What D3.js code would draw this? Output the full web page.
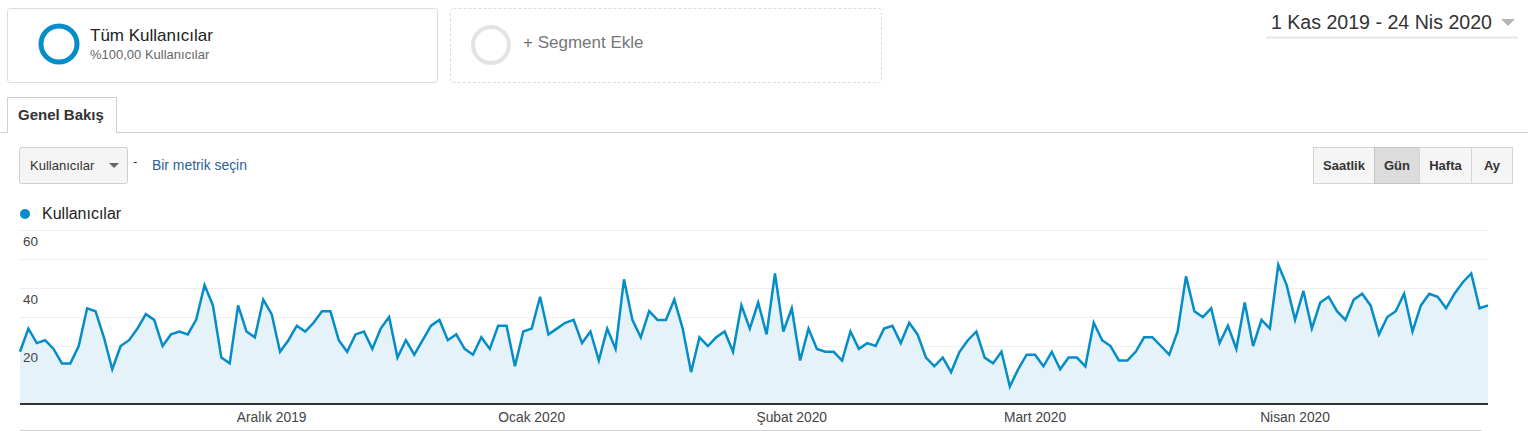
<!DOCTYPE html>
<html>
<head>
<meta charset="utf-8">
<script src="https://cdn.jsdelivr.net/npm/d3@7"></script>
<style>
  body { margin: 0; background: #fff; }
  svg { display: block; font-family: "Liberation Sans", Arial, sans-serif; }
</style>
</head>
<body>
<div id="chart"></div>
<script>
// daily users, 1 Kas 2019 - 24 Nis 2020
const users = [
  18,26,21,22,19,14,14,20,33,32,23,12,20,22,26,31,29,20,24,25,24,29,41,34,16,14,
  34,25,23,36,31,18,22,27,25,28,32,32,22,18,24,25,19,26,30,16,22,17,22,27,29,
  22,24,19,17,23,19,27,27,13,25,26,37,24,26,28,29,21,25,15,26,19,43,29,23,32,
  29,29,36,26,11,23,20,23,25,18,34,26,35,24,45,25,33,15,26,19,18,18,15,25,19,
  21,20,26,27,21,28,24,16,13,16,11,18,22,25,16,14,18,6,12,17,17,13,18,12,16,
  16,13,28,22,20,15,15,18,23,23,20,17,25,44,32,30,33,21,27,19,35,20,29,26,48,
  41,29,39,26,35,37,32,29,36,38,34,24,30,32,38,25,34,38,37,33,38,42,45,33,34
];
const startDate = new Date(2019, 10, 1);
const monthNames = ["Ocak","Şubat","Mart","Nisan","Mayıs","Haziran","Temmuz","Ağustos","Eylül","Ekim","Kasım","Aralık"];
const yTickLabels = [20, 40, 60];
const yGrid = [10, 20, 30, 40, 50, 60];
const granularity = ["Saatlik", "Gün", "Hafta", "Ay"];
const activeGranularity = "Gün";

const data = users.map((v, i) => ({ date: d3.timeDay.offset(startDate, i), value: v }));

const width = 1528, height = 431;
const blue = "#058dc7";

const svg = d3.select("#chart").append("svg")
    .attr("width", width)
    .attr("height", height)
    .attr("viewBox", [0, 0, width, height]);

/* segment cards */
svg.append("rect").attr("x", 7.5).attr("y", 8.5).attr("width", 430).attr("height", 74)
    .attr("rx", 3).attr("fill", "#fff").attr("stroke", "#dcdcdc");
svg.append("circle").attr("cx", 59).attr("cy", 44).attr("r", 18)
    .attr("fill", "none").attr("stroke", blue).attr("stroke-width", 5);
svg.append("text").attr("x", 90).attr("y", 41).attr("font-size", 17).attr("fill", "#222")
    .text("Tüm Kullanıcılar");
svg.append("text").attr("x", 90).attr("y", 59).attr("font-size", 13).attr("fill", "#666")
    .text("%100,00 Kullanıcılar");

svg.append("rect").attr("x", 450.5).attr("y", 8.5).attr("width", 431).attr("height", 74)
    .attr("rx", 3).attr("fill", "#fff").attr("stroke", "#dcdcdc").attr("stroke-dasharray", "3,2");
svg.append("circle").attr("cx", 491).attr("cy", 45).attr("r", 18)
    .attr("fill", "none").attr("stroke", "#e3e3e3").attr("stroke-width", 4);
svg.append("text").attr("x", 523).attr("y", 48).attr("font-size", 17).attr("fill", "#777")
    .text("+ Segment Ekle");

/* date range */
svg.append("text").attr("x", 1492).attr("y", 29).attr("font-size", 19.6).attr("fill", "#333")
    .attr("text-anchor", "end").text("1 Kas 2019 - 24 Nis 2020");
svg.append("path").attr("d", "M1501,19 L1515,19 L1508,26 Z").attr("fill", "#b5b5b5");
svg.append("line").attr("x1", 1266).attr("x2", 1518).attr("y1", 37.5).attr("y2", 37.5)
    .attr("stroke", "#e8e8e8").attr("stroke-width", 2);

/* tab */
svg.append("line").attr("x1", 0).attr("x2", width).attr("y1", 132.5).attr("y2", 132.5)
    .attr("stroke", "#cfcfcf");
svg.append("path").attr("d", "M7.5,133 L7.5,97.5 L116.5,97.5 L116.5,133")
    .attr("fill", "#fff").attr("stroke", "#cfcfcf");
svg.append("rect").attr("x", 8).attr("y", 128).attr("width", 108).attr("height", 6).attr("fill", "#fff");
svg.append("text").attr("x", 18).attr("y", 120).attr("font-size", 15).attr("font-weight", "bold")
    .attr("fill", "#333").text("Genel Bakış");

/* metric selector */
svg.append("rect").attr("x", 19.5).attr("y", 147.5).attr("width", 108).attr("height", 36)
    .attr("rx", 2).attr("fill", "#f5f5f5").attr("stroke", "#cfcfcf");
svg.append("text").attr("x", 30).attr("y", 170).attr("font-size", 13).attr("fill", "#333")
    .text("Kullanıcılar");
svg.append("path").attr("d", "M109,163 L119,163 L114,168 Z").attr("fill", "#666");
svg.append("text").attr("x", 133).attr("y", 166).attr("font-size", 13).attr("fill", "#333").text("-");
svg.append("text").attr("x", 152).attr("y", 170).attr("font-size", 13.9).attr("fill", "#2b5f95")
    .text("Bir metrik seçin");

/* granularity buttons */
const btnWidths = [61, 45, 52, 41];
let bx = 1313;
granularity.forEach((g, i) => {
  const active = g === activeGranularity;
  svg.append("rect").attr("x", bx + 0.5).attr("y", 147.5).attr("width", btnWidths[i]).attr("height", 36)
      .attr("fill", active ? "#dcdcdc" : "#f5f5f5").attr("stroke", active ? "#c4c4c4" : "#d4d4d4");
  svg.append("text").attr("x", bx + btnWidths[i] / 2 + 0.5).attr("y", 170)
      .attr("text-anchor", "middle").attr("font-size", 13).attr("font-weight", "bold")
      .attr("fill", "#333").text(g);
  bx += btnWidths[i];
});

/* legend */
svg.append("circle").attr("cx", 25).attr("cy", 214).attr("r", 5).attr("fill", blue);
svg.append("text").attr("x", 42).attr("y", 219).attr("font-size", 16).attr("fill", "#222")
    .text("Kullanıcılar");

/* chart */
const x = d3.scaleTime()
    .domain([data[0].date, data[data.length - 1].date])
    .range([20, 1488]);
const y = d3.scaleLinear().domain([0, 60]).range([404, 230]);

svg.append("g").selectAll("line").data(yGrid).join("line")
    .attr("x1", 20).attr("x2", 1488)
    .attr("y1", d => Math.round(y(d)) + 0.5).attr("y2", d => Math.round(y(d)) + 0.5)
    .attr("stroke", "#efefef");

const area = d3.area().x(d => x(d.date)).y0(y(0)).y1(d => y(d.value));
const line = d3.line().x(d => x(d.date)).y(d => y(d.value));

svg.append("path").datum(data).attr("d", area).attr("fill", "#e6f2f9");
svg.append("path").datum(data).attr("d", line)
    .attr("fill", "none").attr("stroke", blue).attr("stroke-width", 2.5)
    .attr("stroke-linejoin", "miter");

svg.append("g").selectAll("text").data(yTickLabels).join("text")
    .attr("x", 23).attr("y", d => y(d) + 16)
    .attr("font-size", 13.5).attr("fill", "#444")
    .text(d => d);

svg.append("line").attr("x1", 20).attr("x2", 1488).attr("y1", 404).attr("y2", 404)
    .attr("stroke", "#333").attr("stroke-width", 2);

const months = d3.timeMonth.range(d3.timeDay.offset(startDate, 1), x.domain()[1]);
svg.append("g").selectAll("text").data(months).join("text")
    .attr("x", d => x(d)).attr("y", 422)
    .attr("text-anchor", "middle").attr("font-size", 13.8).attr("fill", "#444")
    .text(d => monthNames[d.getMonth()] + " " + d.getFullYear());

svg.append("line").attr("x1", 20).attr("x2", 1482).attr("y1", 430.5).attr("y2", 430.5)
    .attr("stroke", "#cfcfcf");
</script>
</body>
</html>
